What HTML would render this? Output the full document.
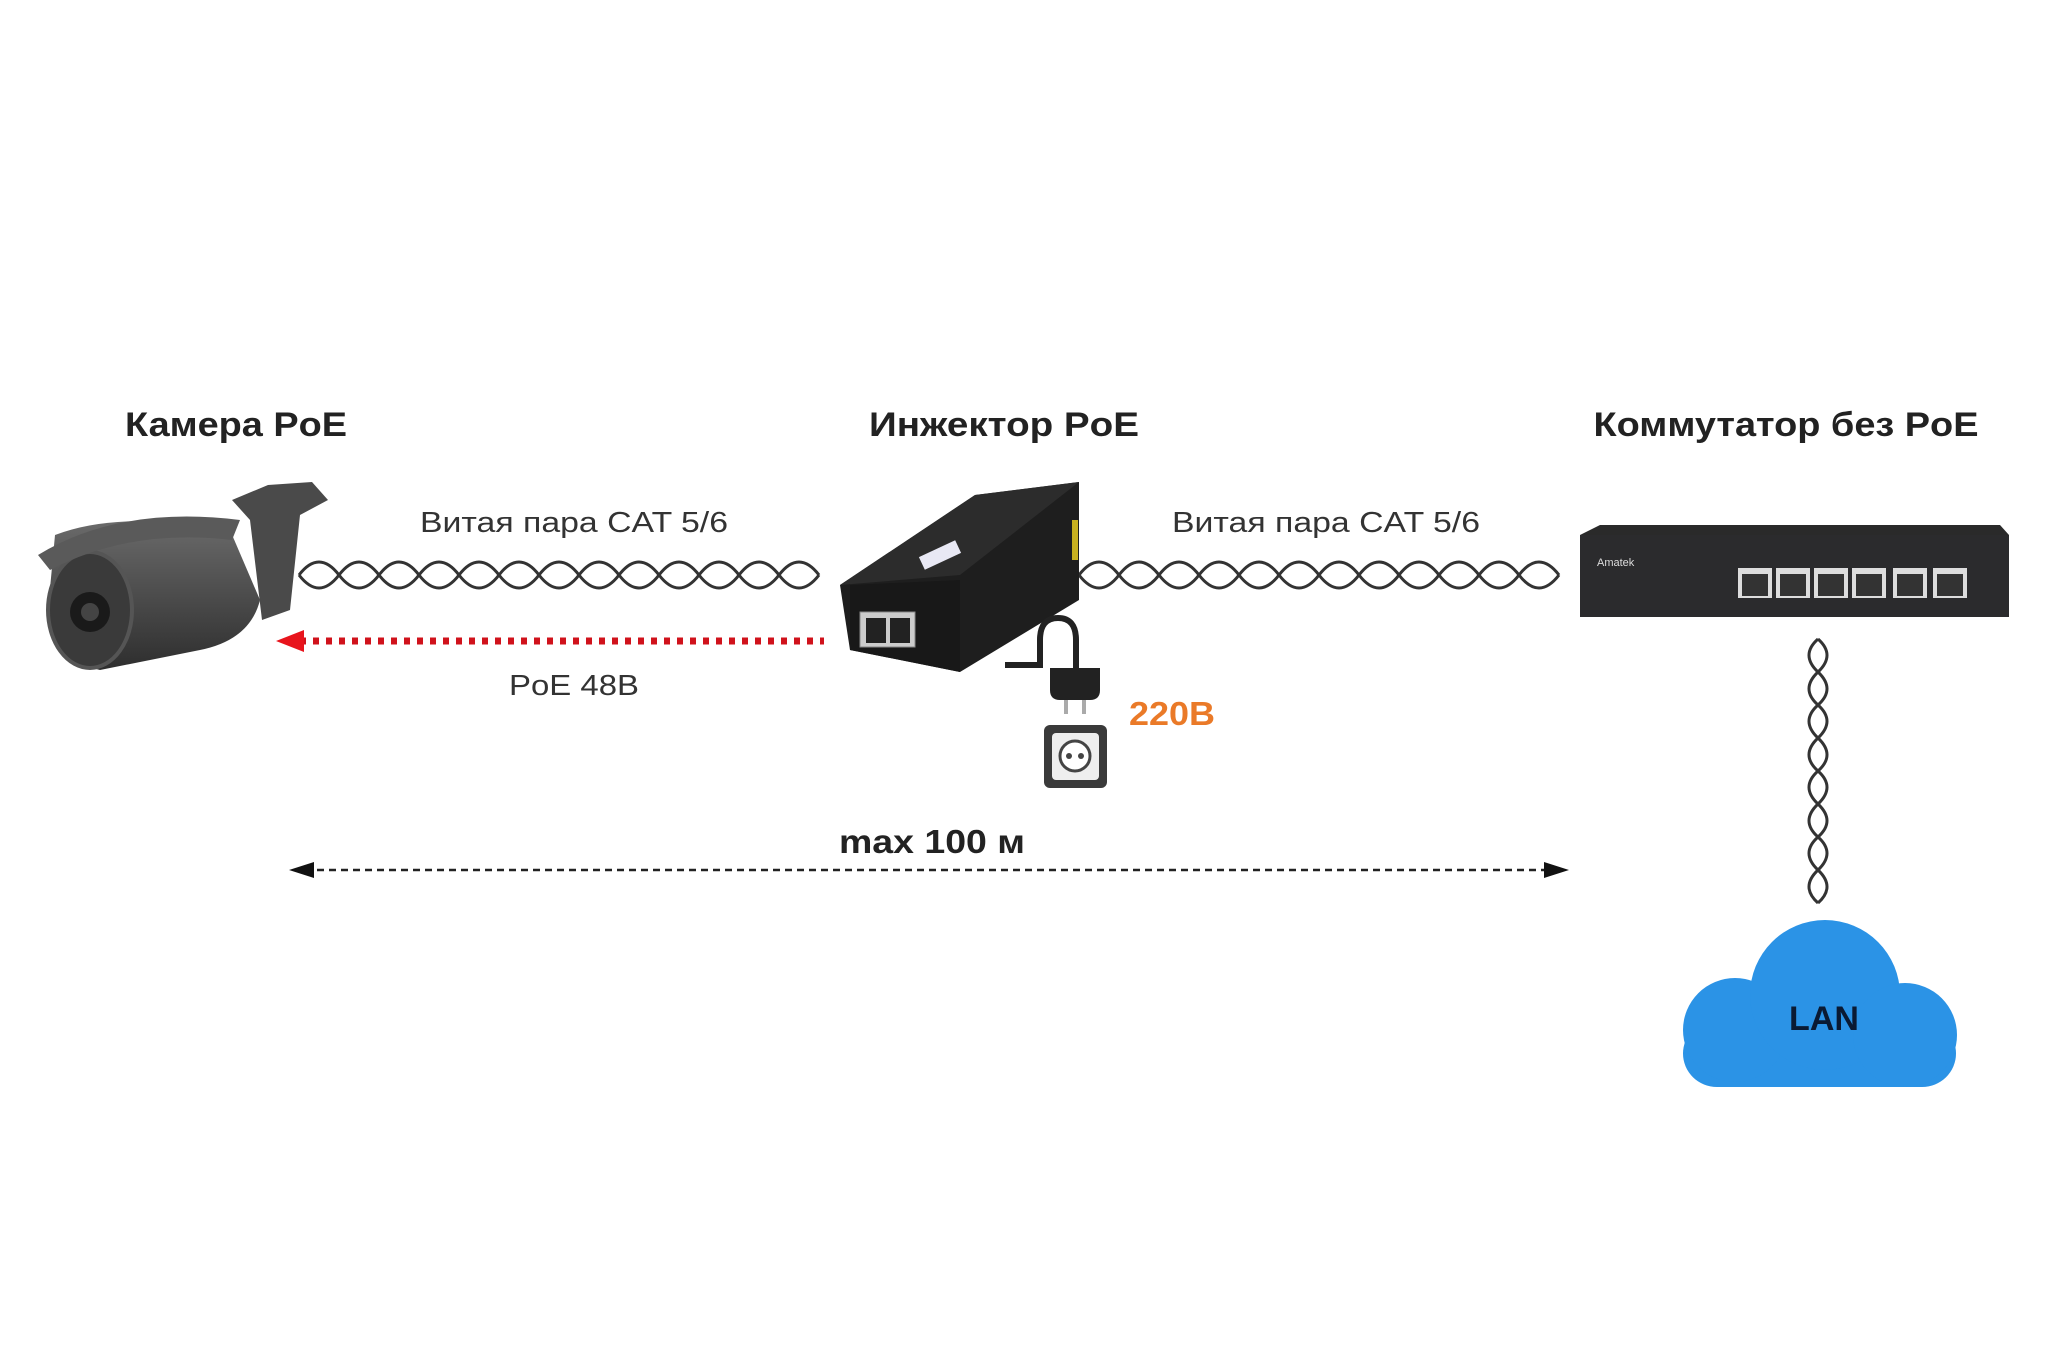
<!DOCTYPE html>
<html><head><meta charset="utf-8"><style>
html,body{margin:0;padding:0;background:#fff}
svg{display:block}
text{font-family:"Liberation Sans",sans-serif}
</style></head><body>
<svg width="2048" height="1365" viewBox="0 0 2048 1365">
<defs>
<linearGradient id="cam" x1="0" y1="0" x2="0" y2="1"><stop offset="0" stop-color="#6a6a6a"/><stop offset="1" stop-color="#2e2e2e"/></linearGradient>
</defs>
<g font-weight="bold" font-size="34" fill="#222" text-anchor="middle">
<text x="236" y="436" textLength="222" lengthAdjust="spacingAndGlyphs">Камера PoE</text>
<text x="1004" y="436" textLength="270" lengthAdjust="spacingAndGlyphs">Инжектор PoE</text>
<text x="1786" y="436" textLength="385" lengthAdjust="spacingAndGlyphs">Коммутатор без PoE</text>
</g>
<g font-size="29" fill="#333" text-anchor="middle">
<text x="574" y="532" textLength="308" lengthAdjust="spacingAndGlyphs">Витая пара CAT 5/6</text>
<text x="1326" y="532" textLength="308" lengthAdjust="spacingAndGlyphs">Витая пара CAT 5/6</text>
<text x="574" y="695" textLength="130" lengthAdjust="spacingAndGlyphs">PoE 48B</text>
</g>
<g fill="none" stroke="#333" stroke-width="3">
<path d="M299 575 q20 -26 40 0 t40 0 t40 0 t40 0 t40 0 t40 0 t40 0 t40 0 t40 0 t40 0 t40 0 t40 0 t40 0"/>
<path d="M299 575 q20 26 40 0 t40 0 t40 0 t40 0 t40 0 t40 0 t40 0 t40 0 t40 0 t40 0 t40 0 t40 0 t40 0"/>
<path d="M1079 575 q20 -26 40 0 t40 0 t40 0 t40 0 t40 0 t40 0 t40 0 t40 0 t40 0 t40 0 t40 0 t40 0"/>
<path d="M1079 575 q20 26 40 0 t40 0 t40 0 t40 0 t40 0 t40 0 t40 0 t40 0 t40 0 t40 0 t40 0 t40 0"/>
<path d="M1818 639 q-18 16 0 33 t0 33 t0 33 t0 33 t0 33 t0 33 t0 33 t0 33"/>
<path d="M1818 639 q18 16 0 33 t0 33 t0 33 t0 33 t0 33 t0 33 t0 33 t0 33"/>
</g>
<line x1="300" y1="641" x2="824" y2="641" stroke="#d0121b" stroke-width="7" stroke-dasharray="6 7"/>
<polygon points="276,641 304,630 304,652" fill="#e8141c"/>
<line x1="305" y1="870" x2="1550" y2="870" stroke="#222" stroke-width="2.5" stroke-dasharray="7 5"/>
<polygon points="289,870 314,862 314,878" fill="#111"/>
<polygon points="1569,870 1544,862 1544,878" fill="#111"/>
<text x="932" y="853" font-weight="bold" font-size="33" fill="#222" text-anchor="middle" textLength="186" lengthAdjust="spacingAndGlyphs">max 100 м</text>
<g>
<path d="M232 500 L268 485 L312 482 L328 500 L300 515 L290 610 L262 620 L250 520 Z" fill="#4a4a4a"/>
<path d="M55 535 Q120 510 230 530 L260 600 Q250 640 200 650 L100 670 Q55 660 48 610 Z" fill="url(#cam)"/>
<ellipse cx="90" cy="610" rx="42" ry="58" fill="#3a3a3a" stroke="#555" stroke-width="4"/>
<circle cx="90" cy="612" r="20" fill="#1a1a1a"/>
<circle cx="90" cy="612" r="9" fill="#444"/>
<path d="M38 555 Q120 505 240 520 L232 540 Q130 528 50 570 Z" fill="#5a5a5a"/>
</g>
<g>
<path d="M840 585 L975 495 L1079 482 L1079 600 L960 672 L850 650 Z" fill="#1e1e1e"/>
<path d="M840 585 L975 495 L1079 482 L960 575 Z" fill="#2c2c2c"/>
<path d="M850 585 L960 580 L960 672 L850 650 Z" fill="#181818"/>
<rect x="860" y="612" width="55" height="35" fill="#ccc" stroke="#888"/>
<rect x="866" y="618" width="20" height="25" fill="#222"/><rect x="890" y="618" width="20" height="25" fill="#222"/>
<rect x="920" y="548" width="40" height="14" fill="#e8e8f4" transform="rotate(-25 940 555)"/>
<rect x="1072" y="520" width="6" height="40" fill="#c8b020"/>
</g>
<g>
<path d="M1005 665 L1040 665 L1040 640 Q1040 618 1058 618 Q1076 618 1076 640 L1076 668" fill="none" stroke="#222" stroke-width="6"/>
<path d="M1050 668 L1100 668 L1100 690 Q1100 700 1090 700 L1060 700 Q1050 700 1050 690 Z" fill="#222"/>
<rect x="1064" y="700" width="4" height="14" fill="#aaa"/><rect x="1082" y="700" width="4" height="14" fill="#aaa"/>
<rect x="1044" y="725" width="63" height="63" rx="6" fill="#3a3a3a"/>
<rect x="1052" y="733" width="47" height="47" rx="4" fill="#eee"/>
<circle cx="1075" cy="756" r="15" fill="#fff" stroke="#444" stroke-width="3"/>
<circle cx="1069" cy="756" r="3" fill="#444"/><circle cx="1081" cy="756" r="3" fill="#444"/>
</g>
<text x="1172" y="725" font-weight="bold" font-size="33" fill="#ea7a28" text-anchor="middle" textLength="86" lengthAdjust="spacingAndGlyphs">220B</text>
<g>
<path d="M1580 535 L1600 525 L2000 525 L2009 535 Z" fill="#2a2a2a"/>
<rect x="1580" y="535" width="429" height="82" fill="#2b2b2d"/>
<text x="1597" y="566" font-size="11" fill="#ddd">Amatek</text>
<g fill="#ddd">
<rect x="1738" y="568" width="34" height="30"/><rect x="1776" y="568" width="34" height="30"/><rect x="1814" y="568" width="34" height="30"/><rect x="1852" y="568" width="34" height="30"/>
<rect x="1893" y="568" width="34" height="30"/><rect x="1933" y="568" width="34" height="30"/>
</g>
<g fill="#333">
<rect x="1742" y="574" width="26" height="22"/><rect x="1780" y="574" width="26" height="22"/><rect x="1818" y="574" width="26" height="22"/><rect x="1856" y="574" width="26" height="22"/>
<rect x="1897" y="574" width="26" height="22"/><rect x="1937" y="574" width="26" height="22"/>
</g>
</g>
<g fill="#2b93e6">
<rect x="1683" y="1020" width="273" height="67" rx="34"/>
<circle cx="1735" cy="1030" r="52"/>
<circle cx="1825" cy="995" r="75"/>
<circle cx="1905" cy="1035" r="52"/>
</g>
<text x="1824" y="1030" font-weight="bold" font-size="34" fill="#0a1a33" text-anchor="middle">LAN</text>
</svg>
</body></html>
